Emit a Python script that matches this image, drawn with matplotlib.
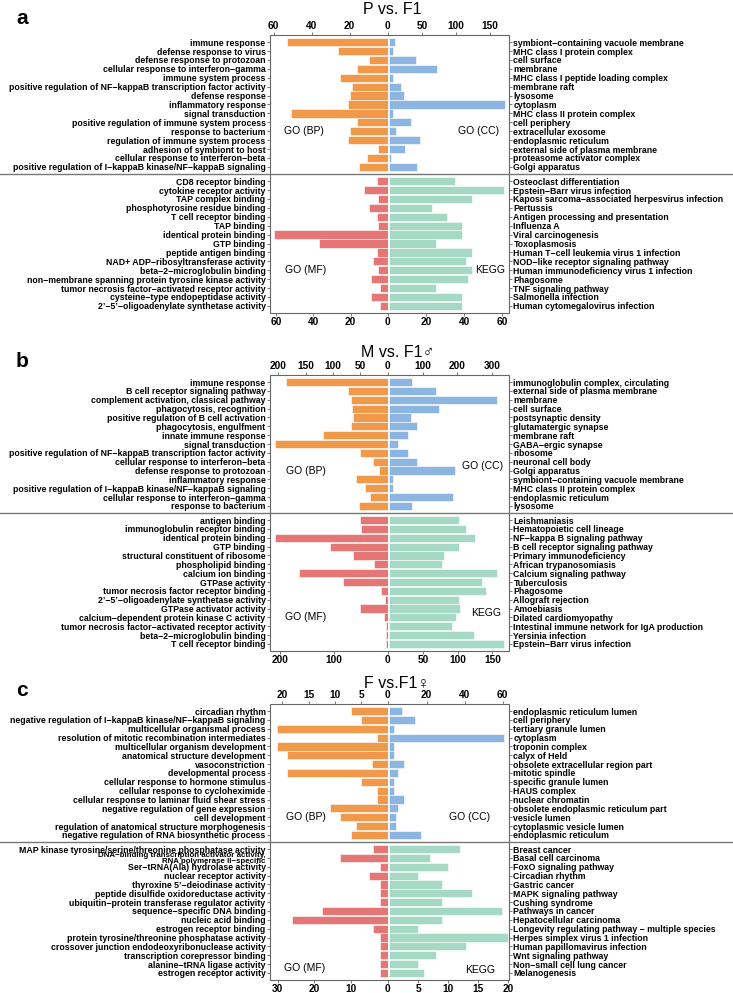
import matplotlib
matplotlib.use("Agg")
from matplotlib import pyplot as plt
from matplotlib import font_manager
from matplotlib import transforms
from matplotlib.patches import Rectangle
from matplotlib.lines import Line2D
import numpy as np

# ---- data: panel a (P vs. F1) ----
a_bp_terms = ["immune response", "defense response to virus", "defense response to protozoan",
              "cellular response to interferon−gamma", "immune system process",
              "positive regulation of NF−kappaB transcription factor activity", "defense response",
              "inflammatory response", "signal transduction", "positive regulation of immune system process",
              "response to bacterium", "regulation of immune system process", "adhesion of symbiont to host",
              "cellular response to interferon−beta",
              "positive regulation of I−kappaB kinase/NF−kappaB signaling"]
a_bp_counts = [53, 26, 10, 16, 25, 19, 20, 21, 51, 16, 20, 21, 5, 11, 15]
a_cc_terms = ["symbiont−containing vacuole membrane", "MHC class I protein complex", "cell surface", "membrane",
              "MHC class I peptide loading complex", "membrane raft", "lysosome", "cytoplasm",
              "MHC class II protein complex", "cell periphery", "extracellular exosome", "endoplasmic reticulum",
              "external side of plasma membrane", "proteasome activator complex", "Golgi apparatus"]
a_cc_counts = [9, 7, 40, 72, 6, 18, 23, 172, 6, 33, 11, 46, 24, 4, 42]
a_mf_terms = ["CD8 receptor binding", "cytokine receptor activity", "TAP complex binding",
              "phosphotyrosine residue binding", "T cell receptor binding", "TAP binding",
              "identical protein binding", "GTP binding", "peptide antigen binding",
              "NAD+ ADP−ribosyltransferase activity", "beta−2−microglobulin binding",
              "non−membrane spanning protein tyrosine kinase activity",
              "tumor necrosis factor−activated receptor activity", "cysteine−type endopeptidase activity",
              "2’−5’−oligoadenylate synthetase activity"]
a_mf_counts = [6, 13, 5, 10, 6, 5, 61, 37, 6, 8, 5, 9, 4, 9, 4]
a_kegg_terms = ["Osteoclast differentiation", "Epstein−Barr virus infection",
                "Kaposi sarcoma−associated herpesvirus infection", "Pertussis",
                "Antigen processing and presentation", "Influenza A", "Viral carcinogenesis", "Toxoplasmosis",
                "Human T−cell leukemia virus 1 infection", "NOD−like receptor signaling pathway",
                "Human immunodeficiency virus 1 infection", "Phagosome", "TNF signaling pathway",
                "Salmonella infection", "Human cytomegalovirus infection"]
a_kegg_counts = [35, 61, 44, 23, 31, 39, 39, 25, 44, 41, 44, 42, 25, 39, 39]

# ---- data: panel b (M vs. F1 male) ----
b_bp_terms = ["immune response", "B cell receptor signaling pathway", "complement activation, classical pathway",
              "phagocytosis, recognition", "positive regulation of B cell activation", "phagocytosis, engulfment",
              "innate immune response", "signal transduction",
              "positive regulation of NF−kappaB transcription factor activity",
              "cellular response to interferon−beta", "defense response to protozoan", "inflammatory response",
              "positive regulation of I−kappaB kinase/NF−kappaB signaling",
              "cellular response to interferon−gamma", "response to bacterium"]
b_bp_counts = [185, 72, 67, 66, 64, 67, 119, 206, 50, 27, 15, 57, 42, 32, 53]
b_cc_terms = ["immunoglobulin complex, circulating", "external side of plasma membrane", "membrane",
              "cell surface", "postsynaptic density", "glutamatergic synapse", "membrane raft",
              "GABA−ergic synapse", "ribosome", "neuronal cell body", "Golgi apparatus",
              "symbiont−containing vacuole membrane", "MHC class II protein complex", "endoplasmic reticulum",
              "lysosome"]
b_cc_counts = [67, 138, 315, 146, 64, 83, 56, 26, 57, 83, 193, 12, 12, 187, 69]
b_mf_terms = ["antigen binding", "immunoglobulin receptor binding", "identical protein binding", "GTP binding",
              "structural constituent of ribosome", "phospholipid binding", "calcium ion binding",
              "GTPase activity", "tumor necrosis factor receptor binding",
              "2’−5’−oligoadenylate synthetase activity", "GTPase activator activity",
              "calcium−dependent protein kinase C activity",
              "tumor necrosis factor−activated receptor activity", "beta−2−microglobulin binding",
              "T cell receptor binding"]
b_mf_counts = [52, 49, 208, 106, 65, 25, 164, 82, 13, 5, 52, 6, 4, 4, 4]
b_kegg_terms = ["Leishmaniasis", "Hematopoietic cell lineage", "NF−kappa B signaling pathway",
                "B cell receptor signaling pathway", "Primary immunodeficiency", "African trypanosomiasis",
                "Calcium signaling pathway", "Tuberculosis", "Phagosome", "Allograft rejection", "Amoebiasis",
                "Dilated cardiomyopathy", "Intestinal immune network for IgA production", "Yersinia infection",
                "Epstein−Barr virus infection"]
b_kegg_counts = [102, 112, 125, 101, 80, 77, 157, 135, 141, 101, 103, 97, 92, 123, 167]

# ---- data: panel c (F vs. F1 female) ----
c_bp_terms = ["circadian rhythm", "negative regulation of I−kappaB kinase/NF−kappaB signaling",
              "multicellular organismal process", "resolution of mitotic recombination intermediates",
              "multicellular organism development", "anatomical structure development", "vasoconstriction",
              "developmental process", "cellular response to hormone stimulus",
              "cellular response to cycloheximide", "cellular response to laminar fluid shear stress",
              "negative regulation of gene expression", "cell development",
              "regulation of anatomical structure morphogenesis",
              "negative regulation of RNA biosynthetic process"]
c_bp_counts = [7, 5, 21, 2, 21, 19, 3, 19, 5, 2, 2, 11, 9, 6, 7]
c_cc_terms = ["endoplasmic reticulum lumen", "cell periphery", "tertiary granule lumen", "cytoplasm",
              "troponin complex", "calyx of Held", "obsolete extracellular region part", "mitotic spindle",
              "specific granule lumen", "HAUS complex", "nuclear chromatin",
              "obsolete endoplasmic reticulum part", "vesicle lumen", "cytoplasmic vesicle lumen",
              "endoplasmic reticulum"]
c_cc_counts = [7, 14, 3, 61, 3, 3, 8, 5, 3, 3, 8, 5, 4, 4, 17]
c_mf_terms = ["MAP kinase tyrosine/serine/threonine phosphatase activity",
              "DNA−binding transcription activator activity,\nRNA polymerase II−specific",
              "Ser−tRNA(Ala) hydrolase activity", "nuclear receptor activity",
              "thyroxine 5’−deiodinase activity", "peptide disulfide oxidoreductase activity",
              "ubiquitin−protein transferase regulator activity", "sequence−specific DNA binding",
              "nucleic acid binding", "estrogen receptor binding",
              "protein tyrosine/threonine phosphatase activity",
              "crossover junction endodeoxyribonuclease activity", "transcription corepressor binding",
              "alanine−tRNA ligase activity", "estrogen receptor activity"]
c_mf_counts = [4, 13, 2, 5, 2, 2, 2, 18, 26, 4, 2, 2, 2, 2, 2]
c_kegg_terms = ["Breast cancer", "Basal cell carcinoma", "FoxO signaling pathway", "Circadian rhythm",
                "Gastric cancer", "MAPK signaling pathway", "Cushing syndrome", "Pathways in cancer",
                "Hepatocellular carcinoma", "Longevity regulating pathway − multiple species",
                "Herpes simplex virus 1 infection", "Human papillomavirus infection", "Wnt signaling pathway",
                "Non−small cell lung cancer", "Melanogenesis"]
c_kegg_counts = [12, 7, 10, 5, 9, 14, 9, 19, 9, 5, 20, 13, 8, 5, 6]

titles = ["P vs. F1", "M vs. F1♂", "F vs.F1♀"]
letters = ["a", "b", "c"]

# colours
c_bp, c_cc, c_mf, c_kegg = "#F0994A", "#8DB5E1", "#E57676", "#A5D9C6"

# fonts: narrow bold if available
names = {f.name for f in font_manager.fontManager.ttflist}
if "Liberation Sans Narrow" in names:
    fam = ["Liberation Sans Narrow", "DejaVu Sans"]
    lab_size = 7.2
else:
    fam = ["Liberation Sans", "DejaVu Sans"]
    lab_size = 6.3
plt.rcParams["font.family"] = fam

W, H = 733, 993
fig = plt.figure(figsize=(W / 100, H / 100), dpi=100)


def rect(x0, y0, x1, y1):
    return [x0 / W, 1 - y1 / H, (x1 - x0) / W, (y1 - y0) / H]


X_LEFT, X_MID_L, X_MID_R, X_RIGHT = 270, 387.7, 388.7, 509

# layout per panel: box top, separator, box bottom, title y, letter y
layout = [(35, 174, 313, 9, 19), (375, 513, 651, 352, 362), (704, 842, 980, 684, 690)]
title_x = [392, 398, 397]

# x-limits and ticks per half axis: (bp, cc, mf, kegg)
xmaxes = [(62, 178, 63.3, 63.7), (215, 350, 218, 174), (22.3, 63.4, 32.1, 20.2)]
xticks = [([0, 20, 40, 60], [50, 100, 150], [0, 20, 40, 60], [20, 40, 60]),
          ([0, 50, 100, 150, 200], [100, 200, 300], [0, 100, 200], [50, 100, 150]),
          ([0, 5, 10, 15, 20], [20, 40, 60], [0, 10, 20, 30], [5, 10, 15, 20])]

panels = [
    [(a_bp_terms, a_bp_counts), (a_cc_terms, a_cc_counts), (a_mf_terms, a_mf_counts), (a_kegg_terms, a_kegg_counts)],
    [(b_bp_terms, b_bp_counts), (b_cc_terms, b_cc_counts), (b_mf_terms, b_mf_counts), (b_kegg_terms, b_kegg_counts)],
    [(c_bp_terms, c_bp_counts), (c_cc_terms, c_cc_counts), (c_mf_terms, c_mf_counts), (c_kegg_terms, c_kegg_counts)],
]
colors = [c_bp, c_cc, c_mf, c_kegg]
# GO label positions (pixel x, row index) per panel
tags = ["GO (BP)", "GO (CC)", "GO (MF)", "KEGG"]
tag_pos = [[(304, 10), (479, 10), (306, 10), (490, 10)],
           [(306, 10), (483, 9.5), (306, 11), (486, 10.5)],
           [(306, 12), (470, 12), (305, 13.4), (480, 13.7)]]

tick_col = "#444444"
for p in range(3):
    top, sep, bot, ty, ly = layout[p]
    for k in range(4):
        terms, counts = panels[p][k]
        left_side = k in (0, 2)
        upper = k in (0, 1)
        y0, y1 = (top, sep) if upper else (sep, bot)
        x0, x1 = (X_LEFT, X_MID_L) if left_side else (X_MID_R, X_RIGHT)
        ax = fig.add_axes(rect(x0, y0, x1, y1))
        y = np.arange(len(terms))
        ax.barh(y, counts, height=0.92, color=colors[k], edgecolor="white", linewidth=0.4)
        ax.set_ylim(len(terms) - 0.2, -0.8)
        xm = xmaxes[p][k]
        if left_side:
            ax.set_xlim(xm, 0)
            ax.yaxis.tick_left()
        else:
            ax.set_xlim(0, xm)
            ax.yaxis.tick_right()
        ax.set_yticks(y)
        labs = ax.set_yticklabels(terms, fontsize=lab_size, fontweight="bold", linespacing=0.78)
        for lab in labs:
            if "\n" in lab.get_text():
                lab.set_fontsize(lab_size * 0.9)
        ax.set_xticks(xticks[p][k])
        ax.set_xticklabels([str(t) for t in xticks[p][k]], fontsize=7.3, fontweight="bold")
        if upper:
            ax.tick_params(axis="x", top=True, labeltop=True, bottom=False, labelbottom=False)
        else:
            ax.tick_params(axis="x", top=False, labeltop=False, bottom=True, labelbottom=True)
        ax.tick_params(axis="both", direction="out", length=2, width=0.5, colors=tick_col,
                       labelcolor="black", pad=1.2)
        for s in ax.spines.values():
            s.set_visible(False)
        ax.patch.set_alpha(0)
        tx, trow = tag_pos[p][k]
        trans = transforms.blended_transform_factory(ax.transAxes, ax.transData)
        ax.text((tx - x0) / (x1 - x0), trow, tags[k], transform=trans,
                fontsize=7.5, ha="center", va="center")
    # frame and separator
    fig.add_artist(Rectangle((X_LEFT / W, 1 - bot / H), (X_RIGHT - X_LEFT) / W, (bot - top) / H,
                             transform=fig.transFigure, fill=False, edgecolor="#666666", linewidth=0.8))
    fig.add_artist(Line2D([0, 1], [1 - sep / H, 1 - sep / H], transform=fig.transFigure,
                          color="#777777", linewidth=1.0))
    fig.text(title_x[p] / W, 1 - ty / H, titles[p], fontsize=11.5, ha="center", va="center",
             family=["Liberation Sans", "DejaVu Sans"])
    fig.text(22 / W, 1 - ly / H, letters[p], fontsize=15, fontweight="bold", ha="center", va="center",
             family=["Liberation Sans", "DejaVu Sans"])

fig.savefig("out.png", dpi=100, facecolor="white")
